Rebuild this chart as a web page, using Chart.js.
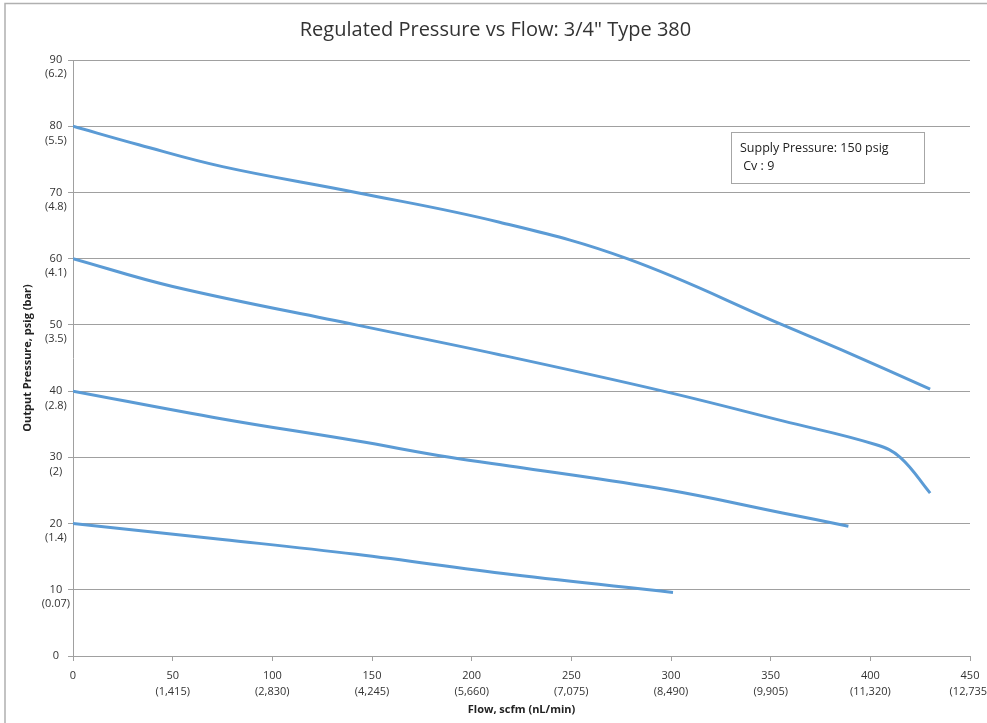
<!DOCTYPE html>
<html>
<head>
<meta charset="utf-8">
<script src="https://cdn.jsdelivr.net/npm/chart.js@4.4.1/dist/chart.umd.min.js"></script>
<style>
    html, body { margin: 0; padding: 0; background: #fff; }
    #wrap { width: 987px; height: 723px; position: relative; }
</style>
</head>
<body>
<div id="wrap"><canvas id="pressureChart"></canvas></div>
<script>
// flow in scfm, output pressure in psig
const curve80x = [0, 33, 75, 142, 214, 278, 356, 385, 430];
const curve80y = [80, 77.2, 73.9, 70, 65.5, 60, 50, 46.3, 40.3];

const curve60x = [0, 50, 142, 214, 296, 356, 403, 415, 430];
const curve60y = [60, 55.8, 50, 45.5, 40, 35.5, 31.9, 30, 24.6];

const curve40x = [0, 75, 142, 189, 226, 298, 356, 389];
const curve40y = [40, 35.8, 32.5, 30, 28.4, 25.1, 21.6, 19.6];

const curve20x = [0, 75, 142, 220, 301];
const curve20y = [20, 17.6, 15.35, 12.3, 9.6];

const xTicks = [0, 50, 100, 150, 200, 250, 300, 350, 400, 450];
const xTickSub = ["", "(1,415)", "(2,830)", "(4,245)", "(5,660)", "(7,075)", "(8,490)", "(9,905)", "(11,320)", "(12,735)"];
const yTicks = [0, 10, 20, 30, 40, 50, 60, 70, 80, 90];
const yTickSub = ["", "(0.07)", "(1.4)", "(2)", "(2.8)", "(3.5)", "(4.1)", "(4.8)", "(5.5)", "(6.2)"];

const lineColor = "rgb(91,155,213)";
const gridColor = "#a0a0a0";

function toPoints(xs, ys) {
    return xs.map(function (x, i) { return { x: x, y: ys[i] }; });
}

function makeSet(xs, ys) {
    return {
        data: toPoints(xs, ys),
        borderColor: lineColor,
        borderWidth: 3,
        pointRadius: 0,
        showLine: true,
        fill: false,
        tension: 0.4,
    };
}

// frame lines and the supply pressure note
const decorPlugin = {
    id: "decor",
    beforeDraw: function (chart) {
        const ctx = chart.ctx;
        ctx.save();
        ctx.strokeStyle = "#b0b0b0";
        ctx.lineWidth = 1.5;
        ctx.beginPath();
        ctx.moveTo(5, 723);
        ctx.lineTo(5, 3.5);
        ctx.lineTo(987, 3.5);
        ctx.stroke();
        ctx.restore();
    },
    afterDraw: function (chart) {
        const ctx = chart.ctx;
        ctx.save();
        ctx.fillStyle = "#fff";
        ctx.fillRect(731, 132, 193, 51);
        ctx.strokeStyle = "#a6a6a6";
        ctx.lineWidth = 1;
        ctx.strokeRect(731.5, 132.5, 193, 51);
        ctx.fillStyle = "#222";
        ctx.font = "12.5px 'Open Sans', sans-serif";
        ctx.textBaseline = "middle";
        ctx.fillText("Supply Pressure: 150 psig", 740, 148);
        ctx.fillText(" Cv : 9", 740, 166);
        ctx.restore();
    },
};

new Chart(document.getElementById("pressureChart").getContext("2d"), {
    type: "scatter",
    data: {
        datasets: [
            makeSet(curve80x, curve80y),
            makeSet(curve60x, curve60y),
            makeSet(curve40x, curve40y),
            makeSet(curve20x, curve20y),
        ],
    },
    options: {
        responsive: true,
        maintainAspectRatio: false,
        animation: false,
        layout: {
            padding: { left: 21, right: 17, top: 10, bottom: 7 },
        },
        plugins: {
            legend: { display: false },
            tooltip: { enabled: false },
            title: {
                display: true,
                text: "Regulated Pressure vs Flow: 3/4\" Type 380",
                color: "#333",
                font: { family: "'Open Sans', sans-serif", size: 20, weight: "normal" },
                padding: { top: 8, bottom: 18 },
            },
        },
        scales: {
            x: {
                type: "linear",
                min: 0,
                max: 450,
                afterBuildTicks: function (scale) {
                    scale.ticks = xTicks.map(function (v) { return { value: v }; });
                },
                afterFit: function (scale) {
                    scale.paddingLeft = 0;
                    scale.paddingRight = 0;
                    scale.height = 60;
                },
                grid: {
                    display: true,
                    drawOnChartArea: false,
                    drawTicks: true,
                    tickLength: 5,
                    color: gridColor,
                },
                border: { display: true, color: gridColor },
                ticks: {
                    color: "#333",
                    maxRotation: 0,
                    autoSkip: false,
                    padding: 7,
                    font: { family: "'Open Sans', sans-serif", size: 11, lineHeight: 1.45 },
                    callback: function (value) {
                        const i = xTicks.indexOf(value);
                        return i > 0 ? [String(value), xTickSub[i]] : String(value);
                    },
                },
                title: {
                    display: true,
                    text: "Flow, scfm (nL/min)",
                    color: "#222",
                    font: { family: "'Open Sans', sans-serif", size: 11, weight: "bold" },
                    padding: { top: 3, bottom: 0 },
                },
            },
            y: {
                type: "linear",
                min: 0,
                max: 90,
                afterBuildTicks: function (scale) {
                    scale.ticks = yTicks.map(function (v) { return { value: v }; });
                },
                afterFit: function (scale) {
                    scale.width = 52;
                    scale.paddingTop = 0;
                    scale.paddingBottom = 0;
                },
                grid: {
                    color: gridColor,
                    tickLength: 5,
                },
                border: { display: true, color: gridColor },
                ticks: {
                    color: "#333",
                    autoSkip: false,
                    padding: -2,
                    crossAlign: "center",
                    font: { family: "'Open Sans', sans-serif", size: 11, lineHeight: 1.3 },
                    callback: function (value) {
                        const i = yTicks.indexOf(value);
                        return i > 0 ? ["", String(value), yTickSub[i]] : String(value);
                    },
                },
                title: {
                    display: true,
                    text: "Output Pressure, psig (bar)",
                    color: "#222",
                    font: { family: "'Open Sans', sans-serif", size: 11, weight: "bold" },
                    padding: { top: 0, bottom: 0 },
                },
            },
        },
    },
    plugins: [decorPlugin],
});
</script>
</body>
</html>
